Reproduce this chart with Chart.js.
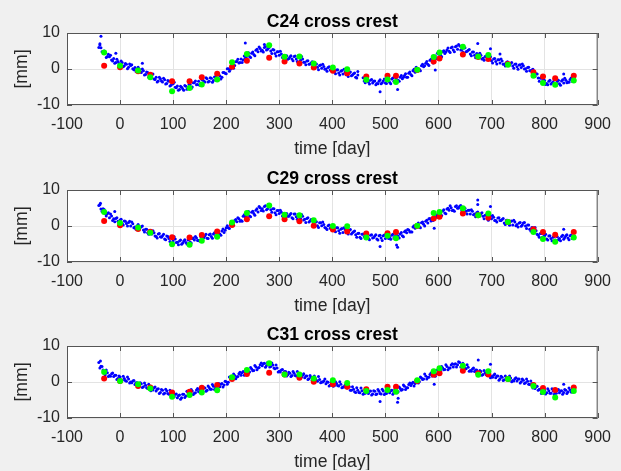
<!DOCTYPE html>
<html>
<head>
<meta charset="utf-8">
<script src="https://cdn.jsdelivr.net/npm/chart.js@4.4.0/dist/chart.umd.min.js"></script>
<style>
  html, body { margin: 0; padding: 0; background: #f0f0f0; }
  .panel { position: absolute; left: 0; width: 621px; height: 157px; }
</style>
</head>
<body>
<div class="panel" style="top:0px"><canvas id="c24" width="621" height="157"></canvas></div>
<div class="panel" style="top:157px"><canvas id="c29" width="621" height="157"></canvas></div>
<div class="panel" style="top:313px"><canvas id="c31" width="621" height="157"></canvas></div>
<script>
// blue readings: run A every 4 days from day -40, run B every 4 days from day -38 (null = no reading)
const blueStartA = -40, blueStartB = -38, blueStep = 4;

const c24BlueA = [
  6.0, 5.9, 4.7, 4.6, 3.5, 3.4, 2.5, 2.9, 1.8, 2.1,
  1.3, 1.8, 0.9, 1.3, 0.5, 1.0, 0.1, 0.4, -0.5, 0.0,
  -1.0, -0.5, -1.5, -1.0, -2.1, -1.7, -2.8, -2.3, -3.3, -2.7,
  -3.6, -3.0, -4.0, -3.4, -4.5, -4.1, -5.1, -4.7, -5.7, -5.1,
  -5.9, -4.8, -5.3, -4.3, -5.0, -3.8, -4.4, -3.4, -4.0, -3.0,
  -3.6, -2.7, -3.4, -2.6, -3.2, -2.2, -2.8, -1.9, -2.3, -1.0,
  -1.3, 0.1, -0.1, 1.3, 1.0, 2.1, 1.7, 2.8, 2.5, 3.0,
  4.1, 3.5, 4.4, 4.0, 5.2, 4.8, 5.7, 5.2, 6.0, 5.3,
  5.9, 5.0, 5.4, 4.3, 4.8, 3.8, 4.2, 3.1, 3.5, 2.7,
  3.3, 2.8, 3.5, 2.8, 3.3, 2.4, 2.8, 1.9, 2.2, 1.3,
  1.7, 0.9, 1.3, 0.5, 1.0, 0.2, 0.7, 0.0, 0.4, -0.3,
  0.1, -0.8, -0.3, -1.1, -0.6, -1.4, -0.8, -1.6, -1.1, -1.9,
  -1.3, -2.3, -1.7, null, null, -3.3, -2.8, -3.6, -3.1, -3.9,
  -3.3, -4.0, -3.4, -4.1, -3.3, -3.9, -3.1, -3.7, -2.8, -3.4,
  -2.6, -3.1, -2.3, -2.7, -1.8, -2.3, -1.2, -1.5, -0.5, -0.9,
  0.1, -0.1, 0.9, 0.6, 1.6, 1.3, 2.4, 2.1, 3.2, 2.9,
  4.2, 3.8, 4.8, 4.3, 5.3, 4.9, 5.9, 5.3, 6.2, 5.5,
  6.4, 5.4, 5.8, 4.8, 5.2, 4.2, 4.7, 3.8, 4.3, 3.3,
  3.8, 3.0, 3.5, 2.6, 3.1, 2.3, 2.8, 2.1, 2.6, 1.7,
  2.2, 1.4, 1.8, 1.0, 1.5, 0.8, 1.3, 0.6, 1.1, 0.4,
  0.9, 0.1, 0.4, -0.5, -0.3, -1.3, -1.3, -2.5, -2.5, -3.5,
  -3.2, -4.0, -3.4, -4.2, -3.6, -4.3, -3.5, -4.1, -3.3, -3.9,
  -3.1, -3.6, -2.9, -3.4, -3.1
];
const c24BlueB = [
  6.7, 4.8, 5.0, 3.2, 4.1, 3.8, 2.2, 1.6, 2.7, 1.5,
  2.2, 0.6, 1.5, 0.1, 1.4, 1.2, -0.2, -0.7, 0.5, -0.6,
  0.0, -1.7, -0.8, -2.3, -1.4, -1.4, -2.9, -3.6, -2.3, -3.3,
  -2.6, -4.2, -3.2, -4.7, -3.7, -3.7, -5.2, -5.9, -4.8, -5.5,
  -4.6, -5.6, -4.3, -5.4, -3.8, -3.3, -4.3, -4.5, -2.9, -3.4,
  -2.4, -3.6, -2.4, -3.7, -2.2, -1.7, -2.7, -2.8, -1.0, -1.2,
  0.1, -0.6, 1.0, 0.2, 2.0, 2.7, 1.8, 1.8, 3.6, 3.4,
  4.5, 3.2, 4.7, 3.7, 5.5, 6.1, 5.0, 4.7, 6.2, 5.5,
  6.1, 4.3, 5.3, 3.6, 4.8, 4.9, 3.2, 2.5, 3.7, 2.9,
  3.7, 2.3, 3.6, 2.1, 3.3, 3.5, 1.9, 1.2, 2.3, 1.4,
  2.0, 0.3, 1.4, -0.2, 1.1, 1.3, -0.1, -0.6, 0.6, -0.2,
  0.4, -1.3, -0.2, -1.7, -0.4, -0.1, -1.6, -2.1, -0.8, -1.7,
  -1.1, -2.5, null, null, -2.4, -3.8, -2.6, -4.2, -2.9, -3.4,
  -4.4, -4.1, -3.0, -3.8, -2.8, -4.0, -2.6, -4.1, -2.5, -2.1,
  -3.3, -3.4, -1.8, -2.3, -1.3, -2.3, -0.8, -1.9, -0.1, 0.5,
  -0.5, -0.5, 1.3, 0.9, 2.1, 1.0, 2.7, 1.7, 3.6, 4.4,
  3.4, 3.4, 5.1, 4.7, 5.8, 4.6, 6.1, 4.8, 6.4, 6.8,
  5.3, 4.7, 5.9, 4.9, 5.4, 3.7, 4.7, 3.1, 4.2, 4.4,
  2.8, 2.4, 3.6, 2.7, 3.4, 1.7, 2.9, 1.4, 2.6, 2.8,
  1.3, 0.8, 2.0, 1.1, 1.8, 0.2, 1.4, -0.1, 1.2, 1.4,
  0.0, -0.6, 0.5, -0.5, -0.1, -2.1, -1.4, -3.4, -2.6, -3.0,
  -4.3, -4.4, -3.1, -3.9, -3.0, -4.6, -3.1, -4.5, -3.0, -2.6,
  -3.8, -3.7, -2.5, -3.2
];
const c29BlueA = [
  5.7, 4.7, 4.8, 3.4, 3.4, 2.3, 2.8, 2.0, 2.1, 1.3,
  1.7, 0.7, 1.4, 0.7, 1.0, 0.0, 0.6, -0.3, 0.0, -0.9,
  -0.2, -1.1, -0.9, -1.9, -1.3, -2.2, -1.9, -2.9, -2.2, -3.0,
  -2.7, -3.6, -2.8, -3.5, -3.2, -4.2, -3.6, -4.5, -4.2, -5.1,
  -4.2, -4.6, -3.9, -4.5, -3.5, -3.9, -3.3, -4.0, -2.9, -3.4,
  -2.7, -3.4, -2.4, -2.9, -2.2, -2.8, -1.7, -2.2, -1.4, -1.8,
  -0.5, -0.5, 0.6, 0.3, 1.5, 1.2, 2.0, 1.5, 2.7, 2.5,
  3.4, 2.8, 3.8, 3.5, 4.4, 3.9, 5.1, 4.8, 5.4, 4.5,
  5.3, 4.5, 4.8, 3.7, 4.3, 3.5, 3.8, 2.7, 3.4, 2.7,
  3.1, 2.3, 3.3, 2.6, 3.0, 2.1, 2.7, 1.9, 2.1, 1.1,
  1.8, 0.9, 1.1, 0.1, 0.9, 0.1, 0.4, -0.6, 0.1, -0.6,
  -0.3, -1.3, -0.5, -1.3, -0.9, -1.8, -1.0, -1.6, -1.2, -2.2,
  -1.6, -2.4, -2.1, -3.1, -2.3, -3.0, -2.6, -3.5, -2.6, -3.3,
  -2.8, -3.6, -2.7, -3.3, -2.7, -3.5, -2.6, -3.1, -2.6, -3.3,
  -2.4, -2.8, -2.2, -2.7, -1.6, -1.9, -1.1, -1.6, -0.3, -0.6,
  0.3, -0.3, 0.9, 0.5, 1.3, 0.8, 2.1, 1.9, 2.8, 2.4,
  3.7, 3.4, 4.2, 3.6, 4.7, 4.4, 5.1, 4.4, 5.4, 4.9,
  5.5, 4.3, 4.9, 4.1, 4.4, 3.3, 4.1, 3.3, 3.7, 2.7,
  3.4, 2.7, 3.0, 2.0, 2.8, 2.0, 2.4, 1.5, 2.2, 1.5,
  1.8, 0.8, 1.6, 0.9, 1.3, 0.3, 1.1, 0.4, 0.8, -0.1,
  0.8, 0.0, 0.3, -0.9, -0.4, -1.3, -1.3, -2.6, -2.1, -3.1,
  -2.7, -3.6, -2.8, -3.5, -3.1, -3.9, -3.0, -3.5, -2.9, -3.7,
  -2.7, -3.3, -2.7, -3.5, -2.8
];
const c29BlueB = [
  5.9, 4.0, 4.6, 2.8, 3.7, 3.3, 1.5, 1.2, 2.3, 0.9,
  1.9, 0.3, 1.3, 0.0, 1.3, 1.1, -0.5, -0.9, 0.4, -0.4,
  0.0, -1.7, -0.9, -2.3, -1.3, -1.3, -2.8, -3.3, -2.1, -3.1,
  -2.3, -3.8, -2.9, -4.3, -3.1, -3.0, -4.6, -5.2, -3.9, -4.7,
  -3.8, -5.0, -3.7, -4.7, -3.3, -2.9, -4.0, -4.2, -2.6, -3.2,
  -2.3, -3.5, -2.2, -3.4, -1.9, -1.5, -2.5, -2.6, -0.8, -1.2,
  0.1, -0.7, 0.9, 0.2, 1.8, 2.3, 1.3, 1.3, 3.1, 2.8,
  4.0, 2.6, 4.1, 3.0, 4.8, 5.4, 4.3, 4.2, 5.6, 4.8,
  5.5, 3.8, 4.8, 3.1, 4.3, 4.4, 2.8, 2.3, 3.5, 2.7,
  3.5, 2.0, 3.3, 1.9, 3.1, 3.2, 1.7, 1.0, 2.3, 1.4,
  1.9, 0.1, 1.2, -0.4, 0.9, 1.1, -0.4, -1.0, 0.3, -0.6,
  0.0, -1.6, -0.5, -2.0, -0.7, -0.5, -1.9, -2.2, -1.0, -1.9,
  -1.4, -3.1, -2.0, -3.5, -2.2, -2.3, -3.4, -3.8, -2.4, -3.2,
  -2.4, -3.9, -2.6, -4.0, -2.5, -2.1, -3.5, -3.7, -2.3, -2.9,
  -2.0, -3.3, -1.8, -3.0, -1.3, -1.0, -1.7, -1.7, 0.1, -0.3,
  0.8, -0.5, 1.1, 0.0, 1.6, 2.0, 1.4, 1.5, 3.3, 3.0,
  4.1, 2.9, 4.5, 3.4, 4.9, 5.6, 4.3, 4.1, 5.6, 5.0,
  5.7, 3.8, 4.9, 3.3, 4.4, 4.5, 3.1, 2.6, 3.9, 3.0,
  3.7, 2.0, 3.1, 1.6, 2.8, 2.9, 1.5, 1.1, 2.3, 1.5,
  2.1, 0.4, 1.6, 0.2, 1.4, 1.6, 0.1, -0.3, 1.0, 0.3,
  1.0, -0.7, 0.3, -1.4, -0.5, -0.4, -2.3, -3.1, -2.1, -3.0,
  -2.3, -3.9, -2.7, -4.1, -2.9, -2.5, -3.8, -4.1, -2.6, -3.2,
  -2.4, -3.8, -2.5, -3.3
];
const c31BlueA = [
  5.4, 4.4, 3.3, 2.0, 2.6, 1.8, 2.3, 1.5, 1.9, 1.0,
  1.4, 0.5, 1.0, 0.2, 0.8, 0.0, 0.3, -0.7, -0.2, -1.0,
  -0.5, -1.3, -0.9, -1.8, -1.2, -2.1, -1.6, -2.5, -1.9, -2.9,
  -2.3, -3.1, -2.5, -3.4, -2.9, -4.0, -3.4, -4.4, -3.6, -4.4,
  -3.4, -3.9, -2.9, -3.4, -2.5, -3.1, -2.2, -2.7, -1.9, -2.5,
  -1.7, -2.3, -1.5, -2.0, -1.2, -1.7, -0.8, -1.3, -0.4, -0.8,
  0.1, -0.1, 1.1, 0.8, 1.8, 1.4, 2.3, 1.9, 2.9, 2.5,
  3.3, 2.8, 3.6, 3.2, 4.2, 3.9, 4.8, 4.5, 5.2, 4.6,
  5.2, 4.3, 4.7, 3.7, 3.9, 3.0, 3.3, 2.5, 2.9, 2.0,
  2.4, 1.8, 2.4, 1.7, 2.2, 1.4, 1.9, 1.2, 1.7, 0.9,
  1.3, 0.5, 1.0, 0.2, 0.7, 0.0, 0.3, -0.5, -0.1, -0.9,
  -0.3, -1.0, -0.4, -1.1, -0.6, -1.4, -0.9, -1.7, -1.3, -2.3,
  -2.0, -2.9, -2.3, -3.0, -2.4, -3.1, -2.5, -3.2, -2.5, -3.3,
  -2.6, -3.3, -2.6, -3.3, -2.5, -3.2, -2.4, -3.0, -2.3, -2.9,
  -2.2, -2.7, -1.8, -2.1, -1.2, -1.6, -0.7, -1.0, -0.1, -0.4,
  0.4, 0.1, 1.1, 0.8, 1.7, 1.3, 2.1, 1.7, 2.5, 2.3,
  3.3, 3.0, 3.9, 3.5, 4.3, 3.9, 4.7, 4.2, 5.1, 4.8,
  5.4, 4.2, 4.5, 3.7, 4.1, 3.2, 3.6, 2.9, 3.3, 2.5,
  2.9, 2.1, 2.6, 1.9, 2.3, 1.5, 1.9, 1.2, 1.7, 0.9,
  1.3, 0.6, 1.2, 0.5, 1.1, 0.4, 0.9, 0.3, 0.8, 0.1,
  0.5, -0.2, 0.2, -0.7, -0.5, -1.5, -1.3, -2.3, -2.0, -2.8,
  -2.3, -3.0, -2.4, -3.1, -2.5, -3.1, -2.4, -3.0, -2.4, -2.9,
  -2.3, -2.8, -2.2, -2.8, -2.3
];
const c31BlueB = [
  3.9, 4.3, 2.4, 3.3, 1.5, 1.6, 2.5, 1.9, 0.7, 1.7,
  0.3, 1.6, 0.4, 1.4, -0.3, -0.2, 0.4, -0.2, -1.4, -0.2,
  -1.5, -0.3, -1.6, -0.6, -2.4, -2.2, -1.4, -2.0, -3.2, -2.1,
  -3.3, -2.0, -3.2, -2.3, -4.2, -4.1, -3.3, -3.8, -4.8, -3.4,
  -4.3, -2.6, -3.5, -2.1, -3.5, -3.0, -1.8, -2.1, -3.0, -1.6,
  -2.6, -1.1, -2.0, -0.7, -2.1, -1.6, -0.4, -0.6, -1.4, 0.2,
  -0.6, 1.4, 0.7, 2.2, 0.9, 1.5, 2.7, 2.6, 1.9, 3.4,
  2.5, 4.0, 3.1, 4.6, 3.4, 4.0, 5.3, 5.1, 4.1, 5.4,
  4.2, 5.3, 3.9, 4.7, 2.8, 2.8, 3.5, 2.9, 1.7, 2.7,
  1.5, 2.9, 1.8, 2.9, 1.2, 1.4, 2.3, 1.7, 0.7, 1.8,
  0.5, 1.7, 0.5, 1.5, -0.2, 0.0, 0.8, 0.1, -1.1, 0.0,
  -1.2, 0.1, -1.0, 0.1, -1.6, -1.4, -0.5, -1.1, -2.3, -1.3,
  -2.7, -1.6, -2.9, -1.7, -3.4, -3.1, -2.2, -2.6, -3.6, -2.4,
  -3.5, -2.1, -3.2, -2.0, -3.5, -3.2, -2.1, -2.4, -3.4, -2.0,
  -3.0, -1.4, -2.3, -0.8, -2.1, -1.6, -0.3, -0.4, -1.1, 0.5,
  -0.3, 1.4, 0.7, 2.2, 0.8, 1.3, 2.5, 2.3, 1.6, 3.3,
  2.6, 4.3, 3.4, 4.8, 3.4, 3.9, 5.1, 4.9, 4.2, 5.6,
  4.2, 5.2, 3.8, 4.8, 3.0, 3.0, 3.9, 3.3, 2.1, 3.2,
  1.9, 3.2, 2.0, 3.0, 1.2, 1.3, 2.2, 1.7, 0.5, 1.6,
  0.4, 1.7, 0.6, 1.7, 0.1, 0.3, 1.2, 0.8, -0.3, 0.8,
  -0.4, 0.8, -0.6, 0.3, -1.7, -1.8, -1.2, -2.0, -3.2, -2.1,
  -3.3, -1.9, -3.1, -1.9, -3.5, -3.1, -2.1, -2.5, -3.4, -2.1,
  -3.2, -1.7, -2.8, -1.6
];

// stray blue readings [day, mm]
const c24Extra = [[-36, 9.1], [-38, 7.0], [-8, 4.4], [42, 1.6], [236, 7.2], [272, 6.8], [448, -0.7],
  [490, -6.3], [523, -5.7], [594, -0.3], [674, 7.1], [698, 5.6], [716, 4.2], [836, -1.4]];
const c29Extra = [[-37, 6.3], [-10, 4.0], [490, -5.7], [521, -5.3], [523, -5.9], [592, -0.6],
  [674, 7.2], [674, 6.0], [698, 5.4], [836, -0.9]];
const c31Extra = [[-37, 5.8], [490, -5.4], [523, -5.6], [524, -4.5], [592, -0.6], [675, 6.1],
  [698, 4.9], [836, -0.6]];

// red / green readings, same days for both
const markDays = [-30, 0, 34, 57, 98, 131, 154, 183, 211, 239, 281, 310, 338, 365, 401,
  428, 464, 504, 520, 560, 591, 602, 646, 675, 694, 731, 779, 797, 820, 855];

const c24Red = [0.9, 0.5, -0.6, -1.6, -3.4, -3.4, -2.3, -1.3, 0.6, 2.3, 3.1, 2.1, 1.5, 0.4, -0.5,
  -1.2, -2.1, -1.9, -1.9, -0.3, 2.1, 2.9, 4.0, 3.3, 2.8, 1.4, -0.9, -2.1, -2.6, -1.9];
const c24Green = [4.6, 0.9, -0.4, -2.3, -6.2, -5.3, -4.3, -2.9, 1.9, 4.2, 6.6, 3.4, 3.5, 1.5, 0.4,
  -0.1, -3.0, -2.9, -3.6, -0.2, 3.3, 4.6, 6.2, 3.5, 3.9, 1.2, -1.9, -3.9, -4.4, -3.2];
const c29Red = [1.4, 0.2, -0.8, -1.6, -3.1, -3.2, -2.5, -1.5, 0.3, 1.9, 2.7, 1.9, 1.3, 0.1, -1.0,
  -1.5, -2.1, -2.0, -1.7, 0.0, 2.1, 2.6, 3.5, 3.0, 2.3, 1.1, -0.9, -1.7, -2.4, -1.7];
const c29Green = [3.9, 0.8, -0.4, -1.9, -5.1, -5.2, -4.1, -3.0, 1.0, 3.6, 5.7, 3.1, 3.0, 1.6, 0.0,
  -0.1, -3.2, -2.7, -3.4, 0.1, 3.6, 3.9, 4.9, 3.0, 3.5, 1.1, -1.7, -3.6, -4.4, -3.2];
const c31Red = [1.0, 0.3, -1.1, -1.5, -2.9, -2.7, -1.6, -0.8, 0.8, 2.2, 2.6, 2.1, 1.2, 0.1, -0.6,
  -1.3, -2.0, -1.3, -1.3, 0.3, 2.0, 2.4, 3.1, 2.4, 2.1, 0.8, -0.8, -1.7, -2.2, -1.5];
const c31Green = [2.8, 0.3, -0.6, -1.8, -4.1, -3.6, -2.9, -2.3, 1.3, 3.3, 5.2, 2.1, 2.1, 1.0, 0.5,
  -0.3, -2.5, -2.2, -2.7, 0.5, 3.0, 3.8, 4.5, 2.0, 3.0, 0.8, -1.1, -2.8, -4.3, -2.5];

const xTicks = [-100, 0, 100, 200, 300, 400, 500, 600, 700, 800, 900];
const yTicks = [-10, 0, 10];

const FONT = "'Liberation Sans', Arial, Helvetica, sans-serif";
const AXIS_COLOR = '#555555';

function makePanel(id, titleText, blueA, blueB, extra, red, green) {
  const bluePts = [];
  blueA.forEach((v, i) => {
    if (v !== null) bluePts.push({ x: blueStartA + i * blueStep, y: v });
  });
  blueB.forEach((v, i) => {
    if (v !== null) bluePts.push({ x: blueStartB + i * blueStep, y: v });
  });
  extra.forEach(p => bluePts.push({ x: p[0], y: p[1] }));

  // white axes, box, inward ticks and the labels, matlab style
  const frame = {
    id: 'frame',
    beforeDraw(chart) {
      const a = chart.chartArea, c = chart.ctx;
      c.save();
      c.fillStyle = '#ffffff';
      c.fillRect(a.left, a.top, a.right - a.left, a.bottom - a.top);
      c.restore();
    },
    afterDraw(chart) {
      const a = chart.chartArea, c = chart.ctx;
      const xs = chart.scales.x, ys = chart.scales.y;
      c.save();
      c.strokeStyle = AXIS_COLOR;
      c.lineWidth = 1;
      c.strokeRect(a.left + 0.5, a.top + 0.5, a.right - a.left - 1, a.bottom - a.top - 1);
      c.beginPath();
      xTicks.forEach(t => {
        const px = Math.round(xs.getPixelForValue(t)) + 0.5;
        c.moveTo(px, a.bottom); c.lineTo(px, a.bottom - 5);
        c.moveTo(px, a.top); c.lineTo(px, a.top + 5);
      });
      yTicks.forEach(t => {
        const py = Math.round(ys.getPixelForValue(t)) + 0.5;
        c.moveTo(a.left, py); c.lineTo(a.left + 5, py);
        c.moveTo(a.right, py); c.lineTo(a.right - 5, py);
      });
      c.stroke();

      c.textAlign = 'center';
      c.textBaseline = 'middle';
      c.fillStyle = '#000000';
      c.font = 'bold 17.6px ' + FONT;
      c.fillText(titleText, (a.left + a.right) / 2, a.top - 11);

      c.fillStyle = '#262626';
      c.font = '17.6px ' + FONT;
      c.fillText('time [day]', (a.left + a.right) / 2, a.bottom + 44);

      c.translate(22, (a.top + a.bottom) / 2);
      c.rotate(-Math.PI / 2);
      c.fillText('[mm]', 0, 0);
      c.restore();
    }
  };

  const tickFont = { family: FONT, size: 16 };

  new Chart(document.getElementById(id), {
    type: 'scatter',
    data: {
      datasets: [
        { data: markDays.map((d, i) => ({ x: d, y: green[i] })), pointBackgroundColor: '#00ff00',
          pointBorderWidth: 0, pointRadius: 3, order: 0 },
        { data: markDays.map((d, i) => ({ x: d, y: red[i] })), pointBackgroundColor: '#ff0000',
          pointBorderWidth: 0, pointRadius: 3, order: 1 },
        { data: bluePts, pointBackgroundColor: '#0000ff',
          pointBorderWidth: 0, pointRadius: 1.5, order: 2 }
      ]
    },
    options: {
      responsive: false,
      animation: false,
      devicePixelRatio: 1,
      layout: { padding: { top: 33, right: 15, left: 0, bottom: 0 } },
      plugins: { legend: { display: false }, tooltip: { enabled: false }, title: { display: false } },
      scales: {
        x: {
          type: 'linear', min: -100, max: 900,
          afterBuildTicks: s => { s.ticks = xTicks.map(v => ({ value: v })); },
          ticks: { padding: 10, color: '#262626', font: tickFont, maxRotation: 0, autoSkip: false },
          grid: { color: '#e3e3e3', drawTicks: false },
          border: { display: false },
          afterFit: s => { s.height = 52; }
        },
        y: {
          min: -10, max: 10,
          afterBuildTicks: s => { s.ticks = yTicks.map(v => ({ value: v })); },
          ticks: { padding: 7, color: '#262626', font: tickFont },
          grid: { color: '#e3e3e3', drawTicks: false },
          border: { display: false },
          afterFit: s => { s.width = 67; }
        }
      }
    },
    plugins: [frame]
  });
}

makePanel('c24', 'C24 cross crest', c24BlueA, c24BlueB, c24Extra, c24Red, c24Green);
makePanel('c29', 'C29 cross crest', c29BlueA, c29BlueB, c29Extra, c29Red, c29Green);
makePanel('c31', 'C31 cross crest', c31BlueA, c31BlueB, c31Extra, c31Red, c31Green);
</script>
</body>
</html>
